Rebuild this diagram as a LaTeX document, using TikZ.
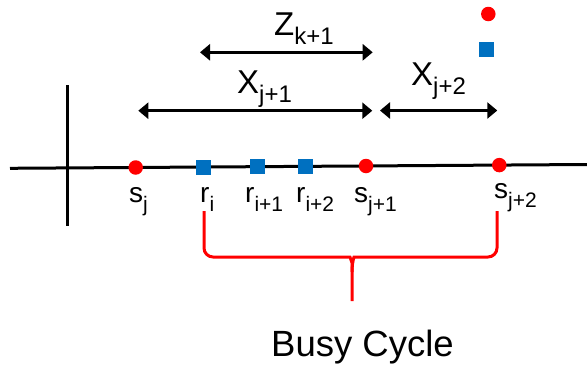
\documentclass[tikz,border=0pt]{standalone}
\usepackage{fontspec}
\setmainfont{Liberation Sans}
\usepackage{xcolor}
\usetikzlibrary{positioning,arrows.meta}

\definecolor{dotred}{RGB}{255,0,0}
\definecolor{sqblue}{RGB}{0,112,192}
\newcommand{\lowr}[2]{\raisebox{-9pt}{\fontsize{#1}{#1}\selectfont #2}}

\tikzset{
	srv/.style={circle, fill=dotred, inner sep=0pt, minimum size=14.5pt},
	req/.style={rectangle, fill=sqblue, inner sep=0pt, minimum size=15pt},
	ptlabel/.style={anchor=base west, inner sep=0pt, font=\fontsize{28}{28}\selectfont},
	spanlabel/.style={anchor=base west, inner sep=0pt, font=\fontsize{33}{33}\selectfont},
	span/.style={line width=3pt, {Triangle[length=10pt,width=16pt]}-{Triangle[length=10pt,width=16pt]}},
	axis/.style={line width=3pt},
	brace/.style={draw=dotred, line width=3pt, rounded corners=9pt},
}

\begin{document}
\begin{tikzpicture}[x=1pt, y=-1pt]
	\useasboundingbox (0,0) rectangle (587,367);
	% axes
	\coordinate (tl) at (10,168.3);
	\coordinate (tr) at (587,164.5);
	\coordinate (vt) at (67.7,85);
	\coordinate (vb) at (67.7,226);
	\draw[axis] (tl) -- (tr);
	\draw[axis] (vt) -- (vb);

	% arrivals and departures on the time line
	\node[srv] (sj)  at (135.7,167.5) {};
	\node[req] (ri)  at (203.7,167.0) {};
	\node[req] (ri1) at (257.3,166.7) {};
	\node[req] (ri2) at (305.7,166.4) {};
	\node[srv] (sj1) at (366,166) {};
	\node[srv] (sj2) at (499.3,165.1) {};

	\node[ptlabel] (lsj)  at (129,202) {s\lowr{21}{j}};
	\node[ptlabel] (lri)  at (200,202) {r\lowr{21}{i}};
	\node[ptlabel] (lri1) at (245,202) {r\lowr{21}{i+1}};
	\node[ptlabel] (lri2) at (296,202) {r\lowr{21}{i+2}};
	\node[ptlabel] (lsj1) at (354,202) {s\lowr{21}{j+1}};
	\node[ptlabel] (lsj2) at (494,198) {s\lowr{21}{j+2}};

	% legend
	\node[srv] (keysrv) at (488.3,14) {};
	\node[req] (keyreq) at (486.7,49.3) {};

	% spans
	\coordinate (za) at (200,52.3);
	\coordinate (zb) at (372.7,52.3);
	\coordinate (xa) at (138.3,110.7);
	\coordinate (xb) at (372.3,110.7);
	\coordinate (ya) at (380,110.5);
	\coordinate (yb) at (497.3,110.5);
	\draw[span] (za) -- (zb);
	\draw[span] (xa) -- (xb);
	\draw[span] (ya) -- (yb);
	\node[spanlabel] (lz)  at (274,35) {Z\lowr{24}{k+1}};
	\node[spanlabel] (lx1) at (237,93.3) {X\lowr{24}{j+1}};
	\node[spanlabel] (lx2) at (411,85) {X\lowr{24}{j+2}};

	% busy cycle
	\coordinate (bl) at (204,211);
	\coordinate (br) at (497,211);
	\coordinate (cusp) at (352,301);
	\draw[brace] (bl) -- (204,257) -- (341,257) .. controls (350,257) and (352,263) .. (352,272) -- (cusp);
	\draw[brace] (br) -- (497,257) -- (363,257) .. controls (354,257) and (352,263) .. (352,272);
	\node[anchor=base, inner sep=0pt, font=\fontsize{36.5}{36.5}\selectfont] (busy) at (362.5,356.7) {Busy Cycle};
\end{tikzpicture}
\end{document}
